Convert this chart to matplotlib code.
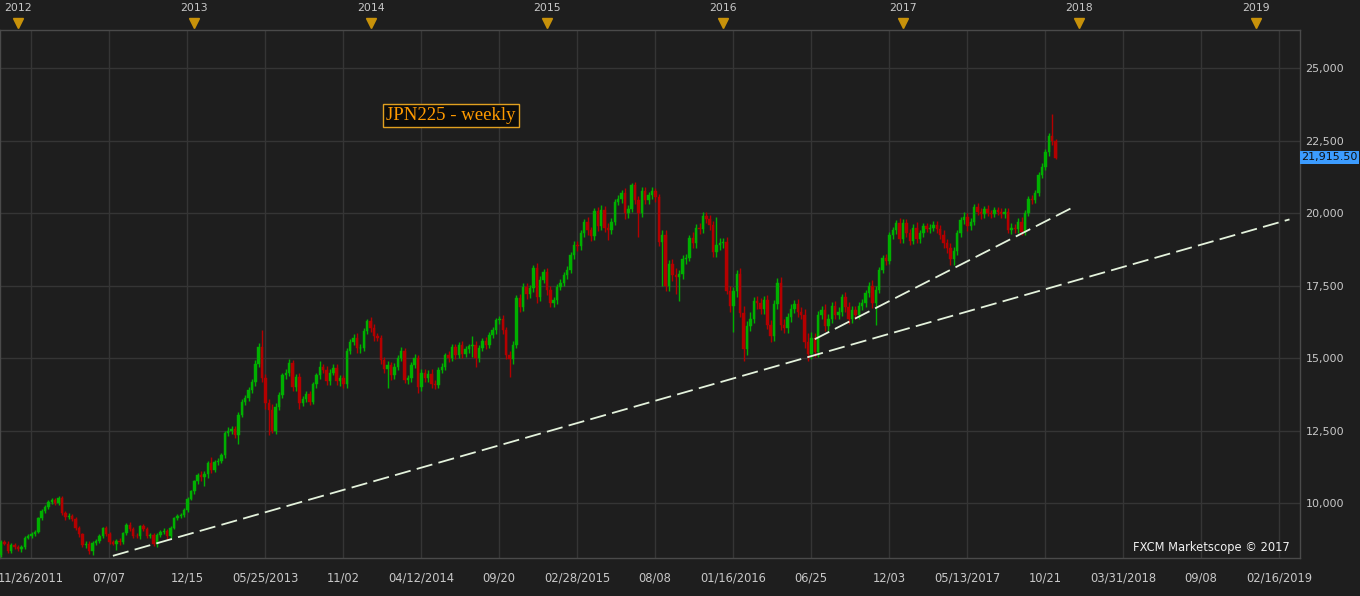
import datetime as dt
import math
import matplotlib
matplotlib.use("Agg")
import matplotlib.pyplot as plt
from matplotlib.transforms import blended_transform_factory

# weekly JPN225 candles, one per week starting the sunday of 2011-11-27
start_week = dt.date(2011, 11, 27)
first_open = 8200

closes = [
    8650, 8600, 8350, 8550, 8480, 8400, 8480, 8800, 8860, 8930,
    9000, 9480, 9720, 9860, 10030, 10090, 10000, 10170, 9660, 9520,
    9550, 9450, 9140, 8930, 8550, 8600, 8350, 8620, 8700, 8860,
    9140, 8940, 8650, 8600, 8700, 8650, 8950, 9250, 9100, 8870,
    8850, 9200, 9100, 8870, 8900, 8600, 8900, 9000, 9050, 8850,
    9150, 9480, 9550, 9600, 9760, 10150, 10400, 10750, 10950, 10900,
    11000, 11380, 11150, 11400, 11450, 11650, 12400, 12500, 12550, 12350,
    13050, 13480, 13620, 13900, 14170, 14800, 15380, 14310, 13450, 13200,
    12500, 13300, 13720, 14400, 14500, 14830, 14000, 14350, 13450, 13600,
    13750, 13500, 14100, 14400, 14690, 14600, 14200, 14500, 14650, 14200,
    14300, 14100, 15240, 15550, 15700, 15330, 15350, 15930, 16280, 16030,
    15750, 15700, 14930, 14620, 14750, 14400, 14700, 15000, 15250, 14240,
    14300, 14750, 15000, 14000, 14480, 14300, 14450, 14100, 14080, 14600,
    14700, 15100, 15000, 15380, 15100, 15450, 15150, 15300, 15400, 15450,
    15000, 15350, 15600, 15450, 15800, 15950, 16300, 16350, 15950, 15100,
    14950, 15450, 17070, 16750, 17450, 17200, 17400, 18100, 17100, 17700,
    17950, 17350, 16900, 17000, 17450, 17600, 17850, 18050, 18550, 18900,
    18850, 19300, 19700, 19400, 19200, 20070, 19550, 20100, 19500, 19400,
    19700, 20380, 20480, 20700, 20000, 20150, 20950, 20450, 20000, 20760,
    20450, 20620, 20750, 20550, 19000, 19250, 17500, 18250, 17850, 17800,
    17900, 18400, 18450, 19150, 18950, 19500, 19450, 19900, 19800, 19600,
    18650, 18900, 18950, 19000, 17300, 16800, 17300, 17900, 16550, 15300,
    16100, 16350, 16950, 16900, 16700, 17000, 16150, 15750, 16850, 17600,
    16150, 16050, 16400, 16700, 16850, 16600, 16500, 15550, 15150, 15700,
    15200, 16500, 16650, 16100, 16350, 16800, 16500, 16600, 17100, 16750,
    16350, 16650, 16500, 16800, 16900, 17250, 17500, 16900, 17350, 18050,
    18450, 18350, 19250, 19400, 19650, 19100, 19650, 19300, 19050, 19500,
    19100, 19300, 19550, 19450, 19500, 19600, 19450, 19250, 18950, 18800,
    18400, 18700, 19300, 19750, 19850, 19550, 19700, 20200, 20050, 19950,
    20150, 20000, 19950, 20100, 20050, 19950, 20050, 19400, 19500, 19450,
    19700, 19350, 20000, 20500, 20450, 20700, 21300, 21600, 22100, 22650,
    22500, 21900,
]

# wick length above the body / below the body, in index points
wick_up = [
    60, 90, 80, 60, 70, 60, 60, 50, 70, 60,
    60, 40, 60, 70, 60, 80, 90, 60, 60, 80,
    90, 80, 60, 70, 50, 80, 90, 60, 70, 60,
    50, 60, 50, 70, 60, 90, 60, 60, 80, 60,
    80, 60, 90, 60, 80, 70, 60, 70, 80, 60,
    50, 50, 60, 60, 70, 60, 50, 60, 80, 150,
    100, 80, 200, 80, 90, 80, 70, 120, 100, 90,
    80, 90, 120, 100, 110, 120, 150, 590, 150, 120,
    200, 150, 100, 90, 120, 130, 100, 110, 120, 100,
    110, 120, 90, 100, 200, 120, 120, 110, 130, 150,
    110, 120, 100, 110, 120, 150, 120, 100, 80, 140,
    130, 120, 110, 120, 140, 130, 120, 110, 120, 100,
    110, 100, 150, 120, 130, 140, 120, 160, 140, 100,
    120, 90, 130, 100, 120, 110, 140, 110, 100, 300,
    140, 110, 100, 120, 100, 130, 90, 110, 150, 120,
    130, 120, 100, 150, 120, 140, 130, 110, 160, 140,
    130, 150, 140, 120, 110, 130, 120, 110, 100, 130,
    140, 120, 110, 150, 130, 110, 140, 170, 130, 150,
    120, 110, 130, 110, 150, 140, 100, 130, 150, 120,
    140, 120, 130, 110, 120, 160, 150, 130, 160, 250,
    130, 140, 120, 100, 180, 130, 160, 120, 150, 140,
    130, 950, 200, 150, 160, 180, 150, 140, 200, 250,
    180, 220, 160, 200, 170, 150, 180, 160, 140, 150,
    200, 180, 150, 160, 140, 200, 170, 180, 300, 200,
    180, 120, 150, 200, 160, 130, 170, 150, 120, 160,
    170, 130, 150, 120, 140, 110, 130, 180, 120, 100,
    110, 130, 100, 120, 110, 170, 130, 160, 150, 120,
    180, 130, 120, 110, 130, 120, 140, 150, 160, 140,
    150, 120, 100, 110, 180, 140, 120, 100, 130, 120,
    100, 110, 120, 90, 100, 120, 110, 130, 140, 120,
    130, 150, 100, 80, 120, 90, 100, 110, 90, 100,
    760, 50,
]
wick_dn = [
    50, 60, 70, 80, 60, 70, 80, 60, 50, 60,
    70, 50, 60, 50, 70, 60, 80, 70, 60, 90,
    60, 70, 80, 90, 80, 100, 90, 150, 60, 70,
    60, 80, 70, 60, 220, 90, 70, 60, 80, 90,
    70, 80, 60, 90, 70, 80, 100, 60, 70, 90,
    80, 60, 70, 60, 80, 70, 60, 80, 90, 150,
    300, 120, 100, 90, 100, 80, 90, 100, 120, 110,
    300, 100, 110, 100, 120, 130, 110, 150, 200, 850,
    100, 120, 100, 110, 130, 120, 150, 130, 200, 120,
    130, 120, 100, 120, 110, 130, 140, 120, 100, 140,
    150, 130, 120, 100, 110, 140, 150, 120, 100, 130,
    150, 120, 150, 140, 650, 150, 120, 130, 110, 100,
    150, 120, 110, 200, 130, 140, 120, 150, 160, 110,
    120, 130, 140, 110, 130, 100, 150, 120, 110, 350,
    300, 130, 110, 140, 100, 120, 110, 130, 120, 150,
    600, 150, 120, 160, 140, 150, 130, 120, 200, 140,
    120, 160, 150, 140, 130, 120, 110, 140, 120, 150,
    160, 130, 140, 170, 150, 130, 160, 120, 150, 330,
    140, 130, 120, 150, 200, 160, 130, 150, 830, 140,
    150, 130, 140, 160, 150, 1500, 200, 180, 200, 600,
    850, 160, 150, 120, 170, 150, 160, 130, 150, 170,
    150, 160, 180, 150, 100, 200, 900, 180, 150, 400,
    200, 180, 150, 200, 170, 180, 160, 200, 150, 160,
    180, 200, 170, 150, 160, 180, 170, 200, 250, 200,
    180, 150, 170, 160, 180, 150, 170, 160, 140, 170,
    180, 150, 170, 160, 140, 130, 150, 160, 760, 120,
    130, 140, 120, 130, 110, 150, 130, 140, 160, 130,
    150, 140, 130, 120, 140, 130, 150, 140, 160, 170,
    180, 200, 150, 130, 120, 160, 140, 120, 130, 140,
    120, 110, 130, 100, 120, 130, 110, 100, 120, 140,
    130, 120, 110, 100, 150, 120, 110, 100, 120, 130,
    150, 30,
]

last_price = 21915.50

# trend lines drawn on the chart: (week index, price) end points
trend_long = [(33.0, 8180), (380.0, 19780)]
trend_short = [(240.0, 15650), (316.7, 20230)]

# bottom axis labels and the dates they sit on
tick_dates = [
    dt.date(2012, 1, 28), dt.date(2012, 7, 7), dt.date(2012, 12, 15),
    dt.date(2013, 5, 25), dt.date(2013, 11, 2), dt.date(2014, 4, 12),
    dt.date(2014, 9, 20), dt.date(2015, 2, 28), dt.date(2015, 8, 8),
    dt.date(2016, 1, 16), dt.date(2016, 6, 25), dt.date(2016, 12, 3),
    dt.date(2017, 5, 13), dt.date(2017, 10, 21), dt.date(2018, 3, 31),
    dt.date(2018, 9, 8), dt.date(2019, 2, 16),
]
tick_labels = ["11/26/2011", "07/07", "12/15", "05/25/2013", "11/02",
               "04/12/2014", "09/20", "02/28/2015", "08/08", "01/16/2016",
               "06/25", "12/03", "05/13/2017", "10/21", "03/31/2018",
               "09/08", "02/16/2019"]
years = [2012, 2013, 2014, 2015, 2016, 2017, 2018, 2019]
price_ticks = [10000, 12500, 15000, 17500, 20000, 22500, 25000]


def week_pos(d):
    return (d - start_week).days / 7.0


BG = "#1e1e1e"
GRID = "#353535"
TXT = "#c8c8c8"
UP = "#00b000"
DN = "#b40000"

fig = plt.figure(figsize=(13.6, 5.96), dpi=100, facecolor=BG)
ax = fig.add_axes([0.0, (596 - 558) / 596, 1300 / 1360, (558 - 30) / 596])
ax.set_facecolor(BG)

opens = [first_open] + closes[:-1]
for i, (o, c) in enumerate(zip(opens, closes)):
    col = UP if c >= o else DN
    top = max(o, c)
    bot = min(o, c)
    ax.vlines(i, bot - wick_dn[i], top + wick_up[i], color=col, linewidth=1.0, zorder=3)
    ax.bar(i, max(top - bot, 25), bottom=bot, width=0.72, color=col,
           edgecolor=col, linewidth=0.3, zorder=4)

for seg in (trend_long, trend_short):
    ax.plot([seg[0][0], seg[1][0]], [seg[0][1], seg[1][1]], color="#e4f2dc",
            linewidth=1.3, linestyle=(0, (9, 3.5)), zorder=5)

ax.set_xlim(-0.3, 383.1)
ax.set_ylim(8105, 26310)

# grid
ax.set_yticks(price_ticks)
ax.set_yticklabels([f"{p:,}" for p in price_ticks])
ax.set_xticks([week_pos(d) for d in tick_dates])
ax.set_xticklabels(tick_labels)
ax.grid(True, color=GRID, linewidth=1.0, zorder=0)
ax.yaxis.tick_right()
ax.tick_params(axis="y", length=0, pad=4, labelsize=8, labelcolor=TXT)
ax.tick_params(axis="x", length=0, pad=10, labelsize=8.3, labelcolor=TXT)
for s in ax.spines.values():
    s.set_color("#4a4a4a")
    s.set_linewidth(1.0)

# year markers along the top
trans = blended_transform_factory(ax.transData, ax.transAxes)
for y in years:
    xp = math.floor((dt.date(y, 1, 1) - start_week).days / 7)
    ax.plot(xp, 1.013, marker="v", markersize=7, color="#c8920a",
            transform=trans, clip_on=False, zorder=6)
    ax.text(xp, 1.042, str(y), transform=trans, ha="center", va="center",
            fontsize=7.8, color=TXT, clip_on=False)

# last price tag on the right axis
ax.text(1.001, last_price, f"{last_price:,.2f}",
        transform=blended_transform_factory(ax.transAxes, ax.transData),
        ha="left", va="center", fontsize=8, color="#101010", clip_on=False,
        bbox=dict(boxstyle="square,pad=0.15", facecolor="#3c9cff", edgecolor="none"))

# title box
ax.text(132.7, 23360, "JPN225 - weekly", ha="center", va="center",
        fontsize=13.5, family="Liberation Serif", color="#ff9a00", zorder=7,
        bbox=dict(boxstyle="square,pad=0.15", facecolor="#0c0c0c",
                  edgecolor="#e0a020", linewidth=1.0))

ax.text(0.992, 0.008, "FXCM Marketscope \u00a9 2017", transform=ax.transAxes, ha="right",
        va="bottom", fontsize=8.3, color="#f0f0f0", zorder=7)

fig.savefig("out.png", dpi=100, facecolor=BG)
